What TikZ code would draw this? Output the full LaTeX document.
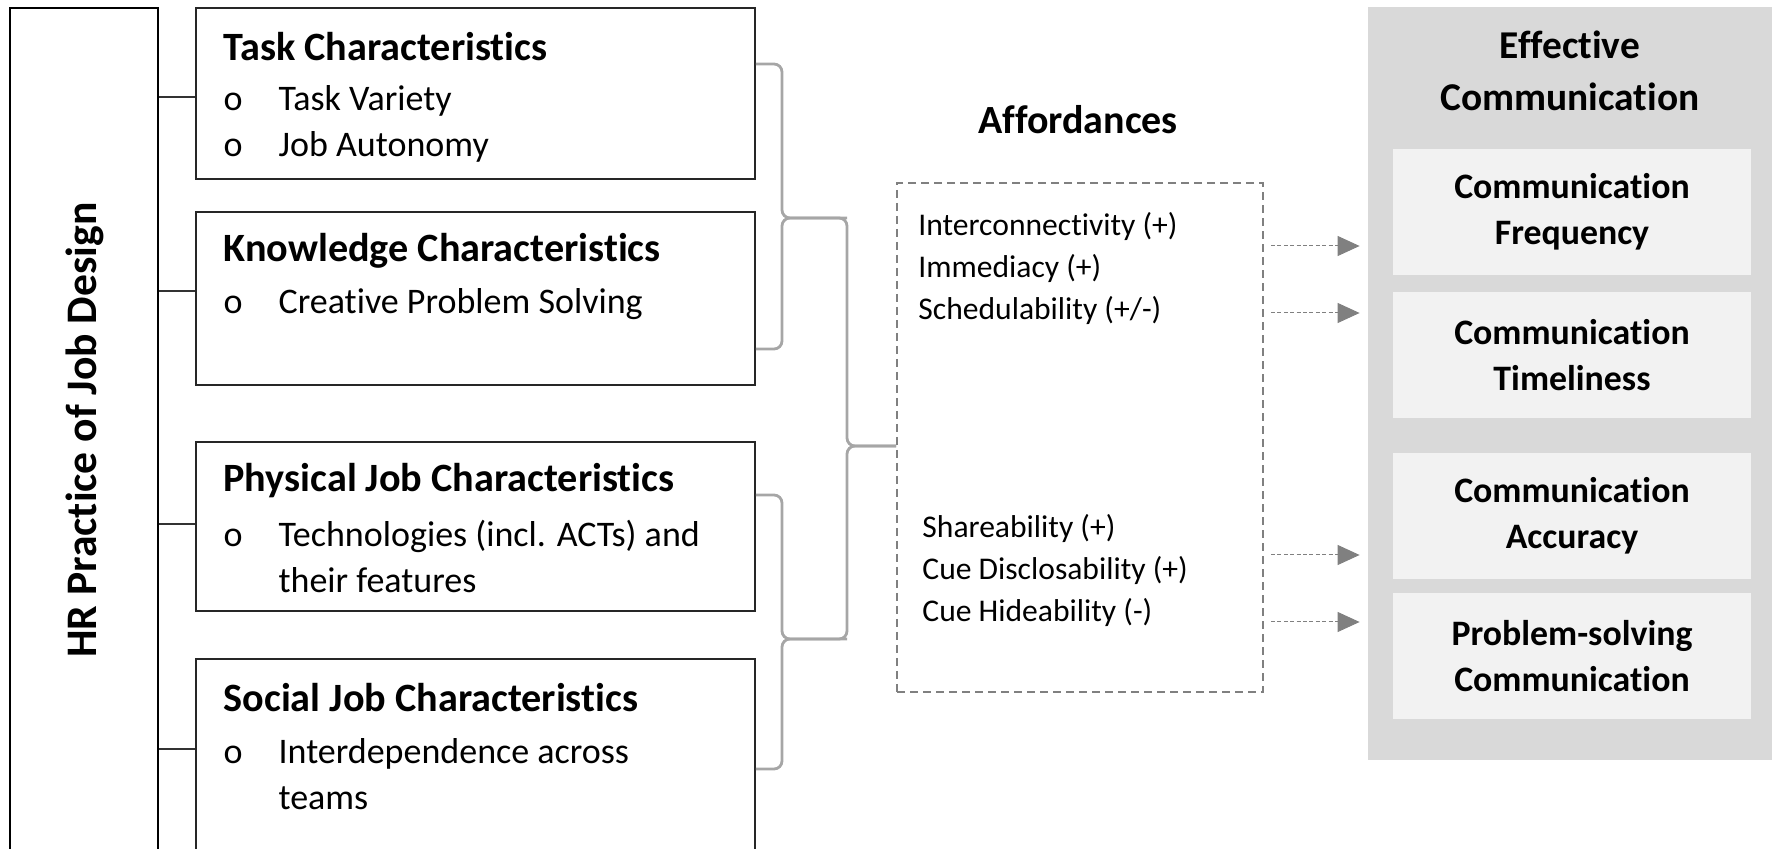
\documentclass[tikz,border=0pt]{standalone}
\usepackage{fontspec}
\setmainfont{Carlito}[Ligatures=NoCommon]
\usepackage{tikz}
\usetikzlibrary{positioning, arrows.meta}
\definecolor{panelgray}{HTML}{D9D9D9}
\definecolor{innergray}{HTML}{F2F2F2}
\definecolor{bracegray}{HTML}{A6A6A6}
\definecolor{dashgray}{HTML}{808080}
\tikzstyle{box} = [rectangle, draw=black!85, line width=0.8pt, minimum width=279.5pt, inner sep=0pt]
\tikzstyle{head} = [anchor=west, inner sep=0pt, font=\bfseries\fontsize{20.1}{24}\selectfont]
\tikzstyle{items} = [anchor=west, inner sep=0pt, align=left, font=\fontsize{18}{23}\selectfont]
\tikzstyle{tick} = [line width=0.8pt, draw=black!80]
\tikzstyle{brace} = [line width=1.4pt, draw=bracegray, rounded corners=4pt]
\tikzstyle{afford} = [rectangle, draw=dashgray, line width=1pt, dash pattern=on 4pt off 2.5pt, minimum width=183pt, minimum height=254.5pt]
\tikzstyle{affitems} = [anchor=west, inner sep=0pt, align=left, font=\fontsize{15.8}{21}\selectfont]
\tikzstyle{arrow} = [draw=dashgray, line width=0.5pt, dash pattern=on 2pt off 1.2pt, -{Triangle[length=11pt,width=10pt]}, shorten <=3.5pt, shorten >=4pt]
\tikzstyle{comm} = [rectangle, fill=innergray, minimum width=179pt, minimum height=63pt, align=center, font=\bfseries\fontsize{17.9}{23}\selectfont]
\newcommand{\bul}{\makebox[27.5pt][l]{o}}

\begin{document}
\begin{tikzpicture}[x=0.5pt, y=-0.5pt]
\useasboundingbox (0,0) rectangle (1774,849);

% job design
\node(hr)[rectangle, draw=black, line width=1.3pt, minimum width=74pt, minimum height=446pt] at (84,454) {};
\node(hrtext)[rotate=90, font=\bfseries\fontsize{21.8}{26}\selectfont] at (85,430) {HR Practice of Job Design};

\node(task)[box, minimum height=85.5pt] at (475.5,93.5) {};
\node(know)[box, minimum height=86.5pt, below=15.8pt of task] {};
\node(phys)[box, minimum height=84.5pt, below=27.6pt of know] {};
\node(social)[box, minimum height=119.5pt, below=23.2pt of phys] {};

\node(taskhead)[head] at ([xshift=14pt,yshift=-19.5pt]task.north west) {Task Characteristics};
\node(tasklist)[items] at ([xshift=14pt,yshift=-58.5pt]task.north west) {\bul Task Variety\\\bul Job Autonomy};
\node(knowhead)[head] at ([xshift=14pt,yshift=-19.5pt]know.north west) {Knowledge Characteristics};
\node(knowlist)[items] at ([xshift=14pt,yshift=-46.5pt]know.north west) {\bul Creative Problem Solving};
\node(physhead)[head] at ([xshift=14pt,yshift=-19.5pt]phys.north west) {Physical Job Characteristics};
\node(physlist)[items] at ([xshift=14pt,yshift=-57.5pt]phys.north west) {\bul Technologies (incl. ACTs) and\\\hspace*{27.5pt}their features};
\node(socialhead)[head] at ([xshift=14pt,yshift=-19.5pt]social.north west) {Social Job Characteristics};
\node(sociallist)[items] at ([xshift=14pt,yshift=-58pt]social.north west) {\bul Interdependence across\\\hspace*{27.5pt}teams};

\draw[tick] (hr.east |- 0,97) -- (task.west |- 0,97);
\draw[tick] (hr.east |- 0,291) -- (know.west |- 0,291);
\draw[tick] (hr.east |- 0,524) -- (phys.west |- 0,524);
\draw[tick] (hr.east |- 0,749) -- (social.west |- 0,749);

% affordances
\node(afford)[afford] at (1080,437.5) {};
\node(affordtitle)[font=\bfseries\fontsize{20}{24}\selectfont] at (1078,120) {Affordances};
\node(grpone)[affitems] at (918,268) {Interconnectivity (+)\\Immediacy (+)\\Schedulability (+/-)};
\node(grptwo)[affitems] at (922,570) {Shareability (+)\\Cue Disclosability (+)\\Cue Hideability (-)};

\coordinate(cuspA) at (782,218);
\coordinate(cuspC) at (782,639);
\coordinate(cuspB) at (847,446);
\draw[brace] (task.east |- 0,64) -| (cuspA) -- (cuspB |- cuspA) |- (afford.west |- cuspB);
\draw[brace] (know.east |- 0,349) -| (cuspA) -- (cuspB |- cuspA);
\draw[brace] (phys.east |- 0,495) -| (cuspC) -- (cuspB |- cuspC) |- (afford.west |- cuspB);
\draw[brace] (social.east |- 0,769) -| (cuspC) -- (cuspB |- cuspC);

% communication
\node(panel)[rectangle, fill=panelgray, minimum width=202pt, minimum height=376.5pt] at (1570,383.5) {};
\node(paneltitle)[align=center, font=\bfseries\fontsize{19.7}{26}\selectfont] at (1570,71) {Effective\\Communication};
\node(freq)[comm] at (1572,212) {Communication\\Frequency};
\node(time)[comm, below=8pt of freq] {Communication\\Timeliness};
\node(accu)[comm, below=17pt of time] {Communication\\Accuracy};
\node(prob)[comm, below=7pt of accu] {Problem-solving\\Communication};

\draw[arrow] (afford.east |- 0,246) -- (panel.west |- 0,246);
\draw[arrow] (afford.east |- 0,313) -- (panel.west |- 0,313);
\draw[arrow] (afford.east |- 0,555) -- (panel.west |- 0,555);
\draw[arrow] (afford.east |- 0,622) -- (panel.west |- 0,622);
\end{tikzpicture}
\end{document}
